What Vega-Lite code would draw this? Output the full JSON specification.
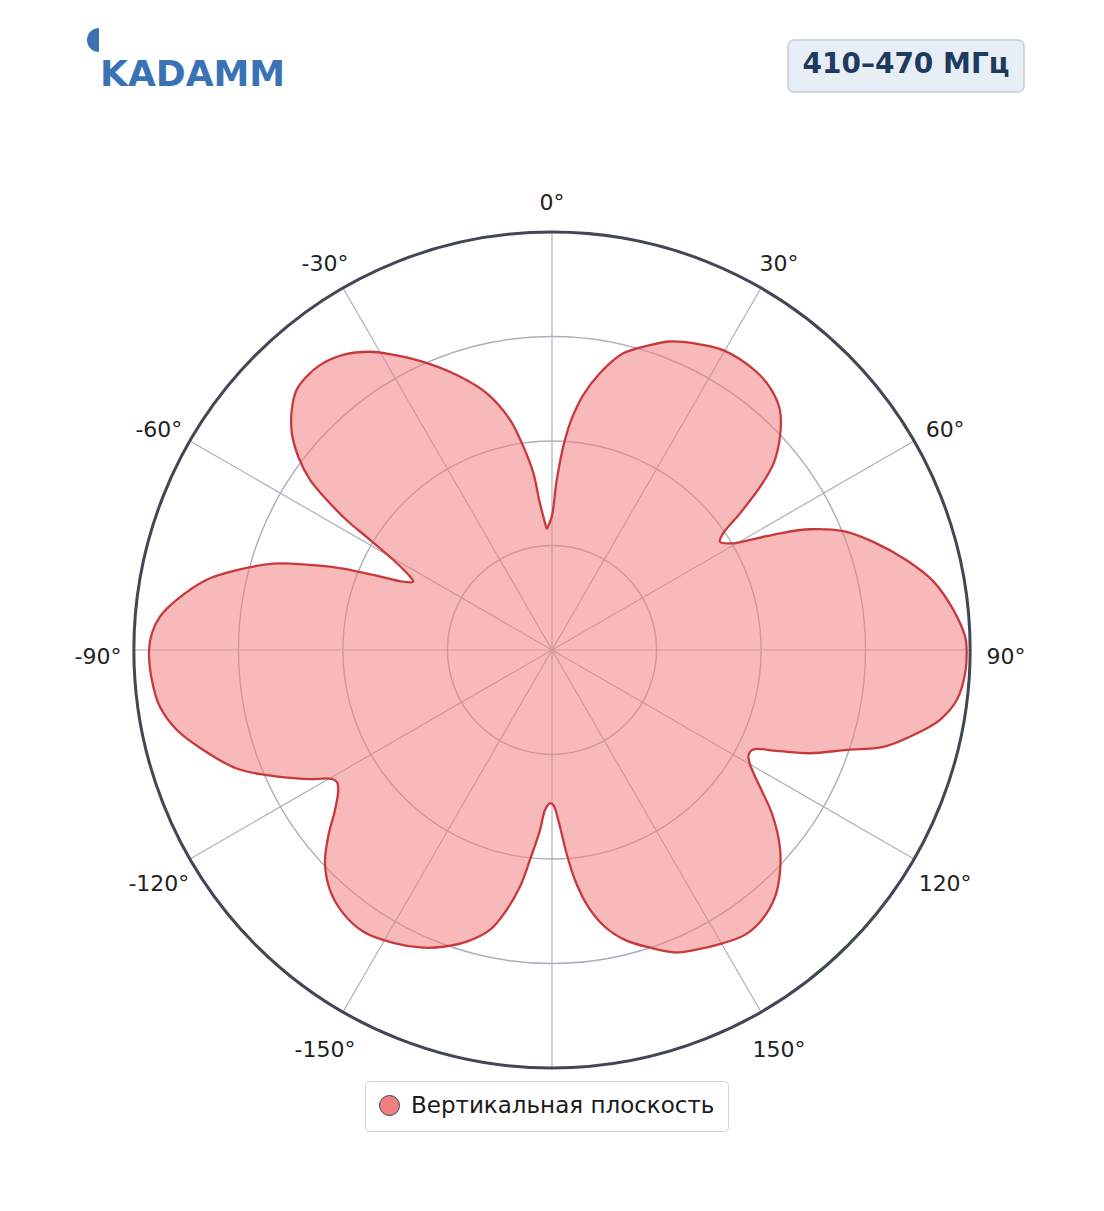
{
  "$schema": "https://vega.github.io/schema/vega-lite/v6.json",
  "width": 1104,
  "height": 1211,
  "autosize": "none",
  "padding": 0,
  "background": "white",
  "config": {"view": {"stroke": null}, "font": "DejaVu Sans"},
  "datasets": {
    "pattern": [
      {"angle": -2.5, "gain": 0.289}, {"angle": -0.1, "gain": 0.319}, {"angle": 1.6, "gain": 0.407}, {"angle": 3.5, "gain": 0.503},
      {"angle": 4.9, "gain": 0.556}, {"angle": 7.0, "gain": 0.615}, {"angle": 9.8, "gain": 0.672}, {"angle": 13.5, "gain": 0.730},
      {"angle": 17.8, "gain": 0.766}, {"angle": 20.9, "gain": 0.790}, {"angle": 24.7, "gain": 0.808}, {"angle": 29.7, "gain": 0.826},
      {"angle": 36.3, "gain": 0.826}, {"angle": 40.2, "gain": 0.814}, {"angle": 43.5, "gain": 0.792}, {"angle": 46.9, "gain": 0.747},
      {"angle": 49.9, "gain": 0.693}, {"angle": 51.9, "gain": 0.633}, {"angle": 54.0, "gain": 0.556}, {"angle": 55.7, "gain": 0.496},
      {"angle": 57.2, "gain": 0.478}, {"angle": 59.5, "gain": 0.503}, {"angle": 61.4, "gain": 0.558}, {"angle": 62.9, "gain": 0.613},
      {"angle": 64.9, "gain": 0.681}, {"angle": 67.8, "gain": 0.753}, {"angle": 71.4, "gain": 0.811}, {"angle": 75.8, "gain": 0.875},
      {"angle": 79.8, "gain": 0.927}, {"angle": 84.3, "gain": 0.965}, {"angle": 88.2, "gain": 0.989}, {"angle": 90.2, "gain": 0.992},
      {"angle": 93.2, "gain": 0.990}, {"angle": 97.0, "gain": 0.976}, {"angle": 100.2, "gain": 0.943}, {"angle": 102.9, "gain": 0.895},
      {"angle": 106.3, "gain": 0.826}, {"angle": 108.7, "gain": 0.745}, {"angle": 111.8, "gain": 0.665}, {"angle": 114.2, "gain": 0.589},
      {"angle": 116.3, "gain": 0.537}, {"angle": 118.1, "gain": 0.533}, {"angle": 120.1, "gain": 0.548}, {"angle": 122.9, "gain": 0.588},
      {"angle": 126.6, "gain": 0.655}, {"angle": 130.8, "gain": 0.720}, {"angle": 134.4, "gain": 0.763}, {"angle": 137.9, "gain": 0.796},
      {"angle": 142.2, "gain": 0.818}, {"angle": 145.9, "gain": 0.823}, {"angle": 150.0, "gain": 0.811}, {"angle": 154.5, "gain": 0.795},
      {"angle": 157.9, "gain": 0.781}, {"angle": 161.5, "gain": 0.752}, {"angle": 165.9, "gain": 0.715}, {"angle": 169.2, "gain": 0.674},
      {"angle": 172.0, "gain": 0.620}, {"angle": 174.3, "gain": 0.553}, {"angle": 175.9, "gain": 0.488}, {"angle": 177.9, "gain": 0.407},
      {"angle": 179.5, "gain": 0.371}, {"angle": 180.7, "gain": 0.367}, {"angle": 182.5, "gain": 0.383}, {"angle": 183.8, "gain": 0.432},
      {"angle": 186.0, "gain": 0.505}, {"angle": 187.7, "gain": 0.571}, {"angle": 189.9, "gain": 0.631}, {"angle": 192.5, "gain": 0.686},
      {"angle": 196.3, "gain": 0.727}, {"angle": 200.1, "gain": 0.756}, {"angle": 203.4, "gain": 0.776}, {"angle": 208.5, "gain": 0.797},
      {"angle": 213.8, "gain": 0.811}, {"angle": 218.4, "gain": 0.804}, {"angle": 222.8, "gain": 0.782}, {"angle": 226.8, "gain": 0.745},
      {"angle": 230.2, "gain": 0.697}, {"angle": 233.6, "gain": 0.645}, {"angle": 236.8, "gain": 0.611}, {"angle": 238.5, "gain": 0.604},
      {"angle": 239.7, "gain": 0.611}, {"angle": 241.9, "gain": 0.656}, {"angle": 243.3, "gain": 0.684}, {"angle": 246.3, "gain": 0.745},
      {"angle": 249.4, "gain": 0.806}, {"angle": 254.0, "gain": 0.868}, {"angle": 258.0, "gain": 0.918}, {"angle": 261.8, "gain": 0.948},
      {"angle": 265.7, "gain": 0.960}, {"angle": 270.0, "gain": 0.964}, {"angle": 272.4, "gain": 0.958}, {"angle": 274.9, "gain": 0.941},
      {"angle": 277.6, "gain": 0.906}, {"angle": 281.5, "gain": 0.843}, {"angle": 284.2, "gain": 0.778}, {"angle": 287.2, "gain": 0.698},
      {"angle": 289.0, "gain": 0.629}, {"angle": 291.1, "gain": 0.544}, {"angle": 292.8, "gain": 0.464}, {"angle": 294.7, "gain": 0.391},
      {"angle": 296.2, "gain": 0.370}, {"angle": 297.3, "gain": 0.382}, {"angle": 299.6, "gain": 0.437}, {"angle": 301.2, "gain": 0.509},
      {"angle": 302.3, "gain": 0.581}, {"angle": 303.7, "gain": 0.648}, {"angle": 305.1, "gain": 0.707}, {"angle": 307.3, "gain": 0.763},
      {"angle": 309.8, "gain": 0.810}, {"angle": 312.7, "gain": 0.847}, {"angle": 315.5, "gain": 0.872}, {"angle": 318.1, "gain": 0.879},
      {"angle": 320.9, "gain": 0.879}, {"angle": 324.7, "gain": 0.865}, {"angle": 328.6, "gain": 0.836}, {"angle": 331.3, "gain": 0.807},
      {"angle": 335.9, "gain": 0.755}, {"angle": 340.9, "gain": 0.696}, {"angle": 345.7, "gain": 0.634}, {"angle": 349.7, "gain": 0.559},
      {"angle": 352.0, "gain": 0.491}, {"angle": 354.0, "gain": 0.425}, {"angle": 355.3, "gain": 0.352}, {"angle": 357.5, "gain": 0.289}
    ],
    "spokes": [
      {"angle": 0}, {"angle": 30}, {"angle": 60}, {"angle": 90}, {"angle": 120}, {"angle": 150},
      {"angle": 180}, {"angle": 210}, {"angle": 240}, {"angle": 270}, {"angle": 300}, {"angle": 330}
    ],
    "rings": [{"r": 0.25}, {"r": 0.5}, {"r": 0.75}],
    "ticklabels": [
      {"angle": 0, "label": "0°"}, {"angle": 30, "label": "30°"}, {"angle": 60, "label": "60°"},
      {"angle": 90, "label": "90°"}, {"angle": 120, "label": "120°"}, {"angle": 150, "label": "150°"},
      {"angle": -30, "label": "-30°"}, {"angle": -60, "label": "-60°"}, {"angle": -90, "label": "-90°"},
      {"angle": -120, "label": "-120°"}, {"angle": -150, "label": "-150°"}
    ],
    "band": [{"text": "410–470 МГц"}],
    "brand": [{"text": "KADAMM"}],
    "series": [{"series": "Вертикальная плоскость"}]
  },
  "layer": [
    {
      "data": {"name": "rings"},
      "mark": {"type": "arc", "filled": false, "stroke": "#aab0bd", "strokeWidth": 1.4, "theta": 0, "theta2": 6.2832},
      "encoding": {
        "x": {"datum": 0, "type": "quantitative", "scale": {"domain": [-1.320574, 1.320574], "nice": false, "zero": false}, "axis": null},
        "y": {"datum": 0, "type": "quantitative", "scale": {"domain": [-1.342105, 1.555024], "nice": false, "zero": false}, "axis": null},
        "radius": {"field": "r", "type": "quantitative", "stack": null, "scale": {"type": "linear", "domain": [0, 1], "range": [0, 418], "zero": true}}
      }
    },
    {
      "data": {"name": "spokes"},
      "transform": [
        {"calculate": "sin(datum.angle * PI / 180)", "as": "sx"},
        {"calculate": "cos(datum.angle * PI / 180)", "as": "sy"}
      ],
      "mark": {"type": "rule", "stroke": "#aab0bd", "strokeWidth": 1.2},
      "encoding": {
        "x": {"field": "sx", "type": "quantitative", "scale": {"domain": [-1.320574, 1.320574], "nice": false, "zero": false}, "axis": null},
        "y": {"field": "sy", "type": "quantitative", "scale": {"domain": [-1.342105, 1.555024], "nice": false, "zero": false}, "axis": null},
        "x2": {"datum": 0},
        "y2": {"datum": 0}
      }
    },
    {
      "data": {"values": [{"r": 1}]},
      "mark": {"type": "arc", "filled": false, "stroke": "#424756", "strokeWidth": 3, "theta": 0, "theta2": 6.2832},
      "encoding": {
        "x": {"datum": 0, "type": "quantitative", "scale": {"domain": [-1.320574, 1.320574], "nice": false, "zero": false}, "axis": null},
        "y": {"datum": 0, "type": "quantitative", "scale": {"domain": [-1.342105, 1.555024], "nice": false, "zero": false}, "axis": null},
        "radius": {"field": "r", "type": "quantitative", "stack": null, "scale": {"type": "linear", "domain": [0, 1], "range": [0, 418], "zero": true}}
      }
    },
    {
      "data": {"name": "pattern"},
      "transform": [
        {"calculate": "datum.gain * sin(datum.angle * PI / 180)", "as": "px"},
        {"calculate": "datum.gain * cos(datum.angle * PI / 180)", "as": "py"}
      ],
      "mark": {"type": "line", "fill": "#f08080", "fillOpacity": 0.55, "stroke": "#c8393c", "strokeWidth": 2.3, "interpolate": "catmull-rom"},
      "encoding": {
        "x": {"field": "px", "type": "quantitative", "scale": {"domain": [-1.320574, 1.320574], "nice": false, "zero": false}, "axis": null},
        "y": {"field": "py", "type": "quantitative", "scale": {"domain": [-1.342105, 1.555024], "nice": false, "zero": false}, "axis": null},
        "order": {"field": "angle", "type": "quantitative"}
      }
    },
    {
      "data": {"name": "ticklabels"},
      "transform": [
        {"calculate": "1.086 * sin(datum.angle * PI / 180)", "as": "lx"},
        {"calculate": "1.086 * cos(datum.angle * PI / 180)", "as": "ly"}
      ],
      "mark": {"type": "text", "fontSize": 22, "color": "#222222", "align": "center", "baseline": "middle", "dy": 7},
      "encoding": {
        "x": {"field": "lx", "type": "quantitative", "scale": {"domain": [-1.320574, 1.320574], "nice": false, "zero": false}, "axis": null},
        "y": {"field": "ly", "type": "quantitative", "scale": {"domain": [-1.342105, 1.555024], "nice": false, "zero": false}, "axis": null},
        "text": {"field": "label"}
      }
    },
    {
      "data": {"name": "band"},
      "mark": {"type": "rect", "fill": "#e8eef6", "stroke": "#c3cedf", "strokeWidth": 1.5, "cornerRadius": 6},
      "encoding": {
        "x": {"datum": 0.5646, "type": "quantitative", "scale": {"domain": [-1.320574, 1.320574], "nice": false, "zero": false}, "axis": null},
        "x2": {"datum": 1.1292},
        "y": {"datum": 1.4593, "type": "quantitative", "scale": {"domain": [-1.342105, 1.555024], "nice": false, "zero": false}, "axis": null},
        "y2": {"datum": 1.3349}
      }
    },
    {
      "data": {"name": "band"},
      "mark": {"type": "text", "fontSize": 28, "fontWeight": "bold", "color": "#1e3a5f", "align": "center", "baseline": "middle", "dy": 3},
      "encoding": {
        "x": {"datum": 0.8469, "type": "quantitative", "scale": {"domain": [-1.320574, 1.320574], "nice": false, "zero": false}, "axis": null},
        "y": {"datum": 1.4067, "type": "quantitative", "scale": {"domain": [-1.342105, 1.555024], "nice": false, "zero": false}, "axis": null},
        "text": {"field": "text"}
      }
    },
    {
      "data": {"name": "brand"},
      "mark": {"type": "arc", "fill": "#3a73b5", "radius": 12, "theta": 3.1416, "theta2": 6.2832},
      "encoding": {
        "x": {"datum": -1.0837, "type": "quantitative", "scale": {"domain": [-1.320574, 1.320574], "nice": false, "zero": false}, "axis": null},
        "y": {"datum": 1.4593, "type": "quantitative", "scale": {"domain": [-1.342105, 1.555024], "nice": false, "zero": false}, "axis": null}
      }
    },
    {
      "data": {"name": "brand"},
      "mark": {"type": "text", "fontSize": 36, "fontWeight": "bold", "color": "#3a73b5", "align": "left", "baseline": "alphabetic"},
      "encoding": {
        "x": {"datum": -1.0813, "type": "quantitative", "scale": {"domain": [-1.320574, 1.320574], "nice": false, "zero": false}, "axis": null},
        "y": {"datum": 1.3493, "type": "quantitative", "scale": {"domain": [-1.342105, 1.555024], "nice": false, "zero": false}, "axis": null},
        "text": {"field": "text"}
      }
    },
    {
      "data": {"name": "series"},
      "mark": {"type": "point", "filled": true, "size": 0, "opacity": 1},
      "encoding": {
        "x": {"datum": 0, "type": "quantitative", "scale": {"domain": [-1.320574, 1.320574], "nice": false, "zero": false}, "axis": null},
        "y": {"datum": 0, "type": "quantitative", "scale": {"domain": [-1.342105, 1.555024], "nice": false, "zero": false}, "axis": null},
        "fill": {
          "field": "series", "type": "nominal",
          "scale": {"range": ["#f08080"]},
          "legend": {
            "title": null, "orient": "none", "legendX": 365, "legendY": 1081,
            "fillColor": "white", "strokeColor": "#ccd5e2", "cornerRadius": 4, "padding": 13,
            "symbolType": "circle", "symbolSize": 400, "symbolStrokeColor": "#3b4054", "symbolStrokeWidth": 1, "symbolOpacity": 1,
            "labelFontSize": 23, "labelColor": "#1a1a1a", "labelOffset": 10, "labelLimit": 500
          }
        }
      }
    }
  ]
}
